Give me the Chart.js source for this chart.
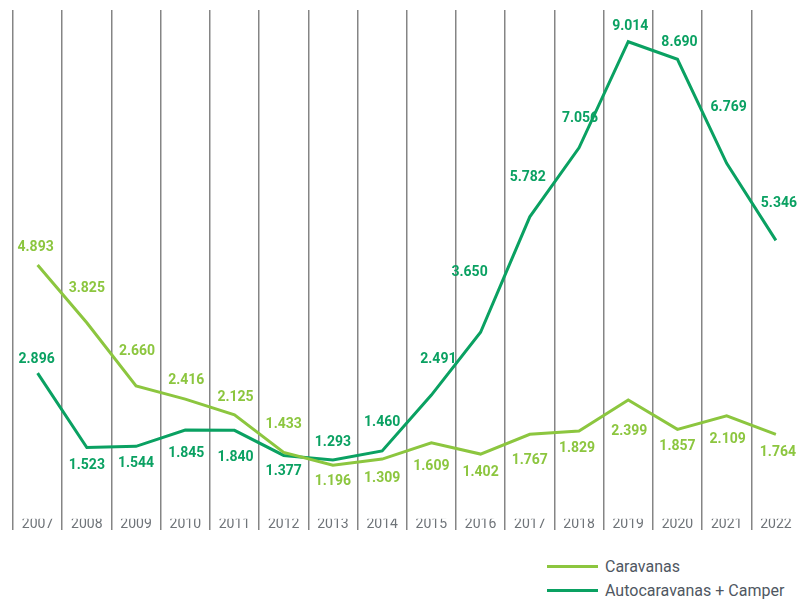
<!DOCTYPE html>
<html>
<head>
<meta charset="utf-8">
<script src="https://cdn.jsdelivr.net/npm/chart.js@4.4.1/dist/chart.umd.min.js"></script>
<style>
	html, body { margin: 0; padding: 0; background: #fff; overflow: hidden; width: 799px; height: 601px; }
	#wrap { position: relative; width: 802px; height: 601px; }
	#chart { position: absolute; left: 0; top: 0; }
	.legend { position: absolute; left: 547px; font: 16px Roboto, sans-serif; color: #4f5762; }
	.legend-item { position: absolute; left: 0; height: 20px; white-space: nowrap; }
	.legend-item .swatch { position: absolute; left: 0; top: 8px; width: 51px; height: 3px; }
	.legend-item .text { position: absolute; left: 58px; top: 0; line-height: 20px; }
</style>
</head>
<body>
<div id="wrap">
	<canvas id="chart" width="802" height="540"></canvas>
	<div class="legend">
		<div class="legend-item" style="top:557px"><span class="swatch" style="background:#8cc63f"></span><span class="text">Caravanas</span></div>
		<div class="legend-item" style="top:581px"><span class="swatch" style="background:#0aa162"></span><span class="text">Autocaravanas + Camper</span></div>
	</div>
</div>
<script>
const years = ['2007', '2008', '2009', '2010', '2011', '2012', '2013', '2014', '2015', '2016', '2017', '2018', '2019', '2020', '2021', '2022'];
const caravanas = [4893, 3825, 2660, 2416, 2125, 1433, 1196, 1309, 1609, 1402, 1767, 1829, 2399, 1857, 2109, 1764];
const autocaravanas = [2896, 1523, 1544, 1845, 1840, 1377, 1293, 1460, 2491, 3650, 5782, 7056, 9014, 8690, 6769, 5346];

// label placement relative to each point (dx, dy in px)
const caravanasLabelOffsets = [
	[-2, -17], [0, -34], [1, -34], [1, -19], [1, -17], [0, -28], [0, 16], [0, 19],
	[0, 24], [0, 18], [0, 26], [-2, 18], [1, 31], [0, 17], [1, 24], [2, 18],
];
const autocaravanasLabelOffsets = [
	[-1, -14], [0, 18], [0, 17], [1, 23], [1, 27], [0, 16], [0, -17], [0, -28],
	[7, -36], [-11, -60], [-2, -39], [1, -29], [2, -15], [2, -17], [2, -56], [3, -37],
];

const LIGHT_GREEN = '#8cc63f';
const DARK_GREEN = '#0aa162';

function formatValue(value) {
	return new Intl.NumberFormat('de-DE').format(value);
}

const valueLabels = {
	id: 'valueLabels',
	afterDatasetsDraw(chart) {
		const ctx = chart.ctx;
		ctx.save();
		ctx.font = 'bold 14px Roboto, sans-serif';
		ctx.textAlign = 'center';
		ctx.textBaseline = 'middle';
		chart.data.datasets.forEach((dataset, di) => {
			const meta = chart.getDatasetMeta(di);
			ctx.fillStyle = dataset.borderColor;
			meta.data.forEach((point, i) => {
				const [dx, dy] = dataset.labelOffsets[i] || [0, 0];
				ctx.fillText(formatValue(dataset.data[i]), point.x + dx, point.y + dy);
			});
		});
		ctx.restore();
	},
};

new Chart(document.getElementById('chart').getContext('2d'), {
	type: 'line',
	data: {
		labels: years,
		datasets: [
			{
				label: 'Caravanas',
				data: caravanas,
				borderColor: LIGHT_GREEN,
				backgroundColor: LIGHT_GREEN,
				borderWidth: 3,
				pointRadius: 0,
				tension: 0,
				labelOffsets: caravanasLabelOffsets,
			},
			{
				label: 'Autocaravanas + Camper',
				data: autocaravanas,
				borderColor: DARK_GREEN,
				backgroundColor: DARK_GREEN,
				borderWidth: 3,
				pointRadius: 0,
				tension: 0,
				labelOffsets: autocaravanasLabelOffsets,
			},
		],
	},
	options: {
		responsive: false,
		animation: false,
		layout: { padding: { left: 13, right: 1.5, top: 10, bottom: 10 } },
		scales: {
			x: {
				offset: true,
				grid: { offset: true, color: '#858585', lineWidth: 1.5, drawTicks: false },
				border: { display: false },
				ticks: {
					padding: -14,
					color: '#6f7479',
					autoSkip: false,
					maxRotation: 0,
					font: { family: 'Roboto', size: 14 },
				},
			},
			y: {
				display: false,
				min: 0,
				max: 9600,
			},
		},
		plugins: {
			legend: { display: false },
			tooltip: { enabled: false },
		},
	},
	plugins: [valueLabels],
});
</script>
</body>
</html>
